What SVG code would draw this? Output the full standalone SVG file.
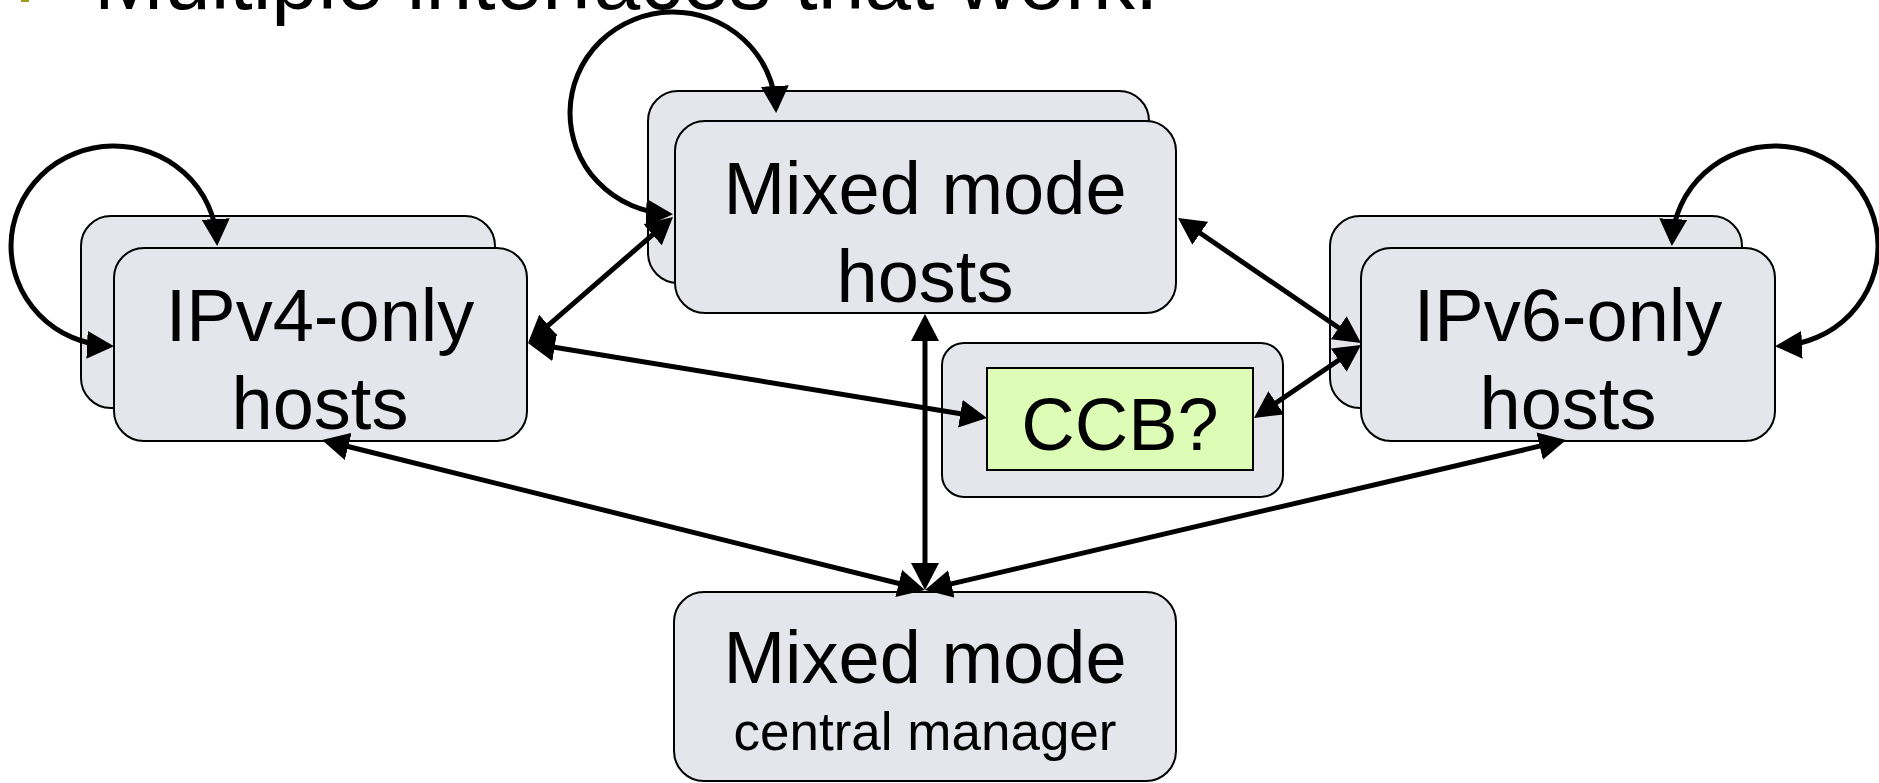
<svg xmlns="http://www.w3.org/2000/svg" width="1879" height="783" viewBox="0 0 1879 783">
<style>
.box{fill:#e5e6eb;stroke:#000;stroke-width:2}
.ccb{fill:#ddfdb6;stroke:#000;stroke-width:2}
.lbl{font-family:"Liberation Sans",Arial,sans-serif;font-size:74px;fill:#000;text-anchor:middle}
.small{font-size:53px}
.title{font-family:"Liberation Sans",Arial,sans-serif;font-size:84px;fill:#000}
.conn{fill:none;stroke:#000;stroke-width:5;marker-start:url(#arr);marker-end:url(#arr)}
</style>
<defs>
<marker id="arr" markerUnits="userSpaceOnUse" viewBox="0 0 27 28" markerWidth="27" markerHeight="28" refX="22" refY="14" orient="auto-start-reverse">
<path d="M0,0 L27,14 L0,28 z" fill="#000"/>
</marker>
</defs>
<rect x="21" y="-10" width="8" height="12" fill="#9c9c1c"/>
<text class="title" x="94" y="9">Multiple interfaces that work.</text>
<g id="ipv4">
<rect class="box" x="81" y="216" width="414" height="192" rx="30"/>
<rect class="box" x="114" y="248" width="413" height="193" rx="30"/>
<text class="lbl" x="320" y="341">IPv4-only</text>
<text class="lbl" x="320" y="429">hosts</text>
</g>
<g id="mixed-hosts">
<rect class="box" x="648" y="91" width="501" height="192" rx="30"/>
<rect class="box" x="675" y="121" width="501" height="192" rx="30"/>
<text class="lbl" x="925" y="214">Mixed mode</text>
<text class="lbl" x="925" y="302">hosts</text>
</g>
<g id="ipv6">
<rect class="box" x="1330" y="216" width="412" height="192" rx="30"/>
<rect class="box" x="1361" y="248" width="414" height="193" rx="30"/>
<text class="lbl" x="1568" y="341">IPv6-only</text>
<text class="lbl" x="1568" y="429">hosts</text>
</g>
<g id="ccb">
<rect class="box" x="942" y="343" width="341" height="154" rx="22"/>
<rect class="ccb" x="987" y="368" width="266" height="102"/>
<text class="lbl" x="1120" y="450">CCB?</text>
</g>
<g id="central-manager">
<rect class="box" x="674" y="592" width="502" height="189" rx="30"/>
<text class="lbl" x="925" y="683">Mixed mode</text>
<text class="lbl small" x="925" y="750">central manager</text>
</g>
<g id="connectors">
<path class="conn" d="M109 345.9 A103 100 0 1 1 216.9 241"/>
<path class="conn" d="M1780 345.9 A103 100 0 1 0 1672.1 241"/>
<path class="conn" d="M668 213.9 A103 101 0 1 1 775.9 108"/>
<path class="conn" d="M531.8 339.7 L669.2 220.3"/>
<path class="conn" d="M532.9 343.8 L982.1 417.2"/>
<path class="conn" d="M1182.1 220.8 L1356.9 340.2"/>
<path class="conn" d="M1258.1 415.2 L1356.9 347.8"/>
<path class="conn" d="M925 319 L925 585"/>
<path class="conn" d="M326.9 441.2 L920.1 588.8"/>
<path class="conn" d="M1561.1 441.1 L929.9 588.9"/>
</g>
</svg>
